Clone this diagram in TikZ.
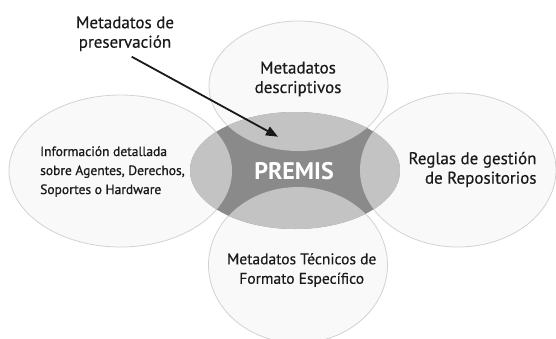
\documentclass[tikz,border=0pt]{standalone}
\usepackage{fontspec}
\setmainfont{PT Sans}
\usetikzlibrary{arrows.meta}
\definecolor{petalfill}{HTML}{F9F9F9}
\definecolor{petalline}{HTML}{D2D2D2}
\definecolor{coredark}{HTML}{8A8A8A}
\definecolor{corelight}{HTML}{C3C3C3}
\definecolor{textcol}{HTML}{1A1A1A}
\begin{document}
\begin{tikzpicture}[x=1pt,y=-1pt,
  petal/.style={fill=petalfill, draw=petalline, line width=0.8pt},
  txt/.style={text=textcol, inner sep=0pt, align=center},
  bigtxt/.style={txt, font=\fontsize{17}{19.5}\selectfont\addfontfeature{FakeBold=0.4}},
  pointer/.style={draw=black!90, line width=1.8pt, -{Triangle[length=12pt,width=9.5pt]}}]
\useasboundingbox (0,0) rectangle (556,338);
% petals
\draw[petal] (120.5,171) ellipse [x radius=111.5pt, y radius=76pt];
\draw[petal] (458,170) ellipse [x radius=98pt, y radius=77pt];
\draw[petal] (298.5,86) ellipse [x radius=89.5pt, y radius=65pt];
\draw[petal] (298,265) ellipse [x radius=89.5pt, y radius=78pt];
% core
\fill[coredark] (295,170.5) ellipse [x radius=105pt, y radius=58.5pt];
\begin{scope}
  \clip (295,170.5) ellipse [x radius=105pt, y radius=58.5pt];
  \fill[corelight] (120.5,171) ellipse [x radius=111.5pt, y radius=76pt];
  \fill[corelight] (458,170) ellipse [x radius=98pt, y radius=77pt];
  \fill[corelight] (298.5,86) ellipse [x radius=89.5pt, y radius=65pt];
  \fill[corelight] (298,265) ellipse [x radius=89.5pt, y radius=78pt];
\end{scope}
% texts
\node[txt, text=white, font=\bfseries\fontsize{24}{26}\selectfont] (premis) at (294,171.5) {PREMIS};
\node[bigtxt] (pres) at (125,33.7) {Metadatos de\\preservación};
\node[bigtxt] (desc) at (298,79) {Metadatos\\descriptivos};
\node[bigtxt, align=right, anchor=east] (regl) at (536.7,169.5) {Reglas de gestión\\de Repositorios};
\node[txt, font=\fontsize{15.5}{19.5}\selectfont\addfontfeature{FakeBold=0.4}] (tecn) at (301.7,270) {Metadatos Técnicos de\\Formato Específico};
\node[txt, align=left, anchor=west, font=\fontsize{13.5}{19}\selectfont\addfontfeature{FakeBold=0.8}] (info) at (40,171.5) {Información detallada\\sobre Agentes, Derechos,\\Soportes o Hardware};
% arrow
\coordinate (arrstart) at (131.7,56.7);
\coordinate (arrtip) at (278,136.7);
\draw[pointer] (arrstart) -- (arrtip);
\end{tikzpicture}
\end{document}
